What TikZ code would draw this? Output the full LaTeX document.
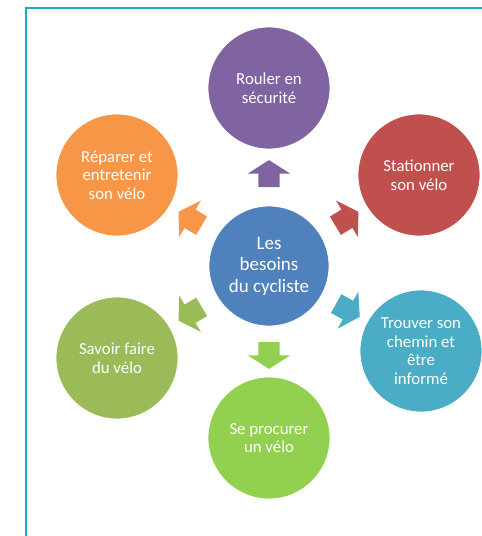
\documentclass[tikz,border=0pt]{standalone}
\usepackage{fontspec}
\setmainfont{Carlito}
\usepackage{xcolor}
\usetikzlibrary{shapes.arrows,calc}

\definecolor{framecol}{HTML}{17ADC7}
\definecolor{hubcol}{HTML}{4F81BD}
\definecolor{purplecol}{HTML}{8064A2}
\definecolor{redcol}{HTML}{C0504D}
\definecolor{tealcol}{HTML}{4BACC6}
\definecolor{limecol}{HTML}{92D050}
\definecolor{olivecol}{HTML}{9BBB59}
\definecolor{orangecol}{HTML}{F79646}

\begin{document}
\begin{tikzpicture}[
  x=1pt, y=-1pt,
  bubble/.style={circle, draw=white, line width=0.8pt, minimum size=122pt,
                 inner sep=0pt, align=center, text=white,
                 font=\fontsize{16.8}{18.6}\selectfont},
  hubble/.style={bubble, fill=hubcol, minimum size=120pt,
                 font=\fontsize{19}{21.5}\selectfont},
  blockarr/.style={single arrow, draw=none, inner xsep=0pt, inner ysep=10.5pt,
                   minimum height=27pt,
                   single arrow head extend=10.5pt, single arrow tip angle=115},
]
\useasboundingbox (0,0) rectangle (482,536);

% frame
\draw[framecol, line width=2pt] (482,8) -- (26,8) -- (26,536);

% hub
\node[hubble] (hub) at (269,266) {Les\\besoins\\du cycliste};

% needs around the hub
\node[bubble, fill=purplecol] (N1) at (269,88)  {Rouler en\\sécurité};
\node[bubble, fill=redcol]    (N2) at (419,175) {Stationner\\son vélo};
\node[bubble, fill=tealcol]   (N3) at (421,351) {Trouver son\\chemin et\\être\\informé};
\node[bubble, fill=limecol]   (N4) at (269,438) {Se procurer\\un vélo};
\node[bubble, fill=olivecol]  (N5) at (117,358) {Savoir faire\\du vélo};
\node[bubble, fill=orangecol] (N6) at (117,175) {Réparer et\\entretenir\\son vélo};

% block arrows between hub and needs
\node[blockarr, fill=purplecol, rotate=90]  (a1) at ($(hub)!0.5!(N1)$) {};
\node[blockarr, fill=redcol,    rotate=31]  (a2) at ($(hub)!0.5!(N2)$) {};
\node[blockarr, fill=tealcol,   rotate=-29] (a3) at ($(hub)!0.5!(N3)$) {};
\node[blockarr, fill=limecol,   rotate=-90] (a4) at ($(hub)!0.5!(N4)$) {};
\node[blockarr, fill=olivecol,  rotate=211] (a5) at ($(hub)!0.5!(N5)$) {};
\node[blockarr, fill=orangecol, rotate=149] (a6) at ($(hub)!0.5!(N6)$) {};
\end{tikzpicture}
\end{document}
